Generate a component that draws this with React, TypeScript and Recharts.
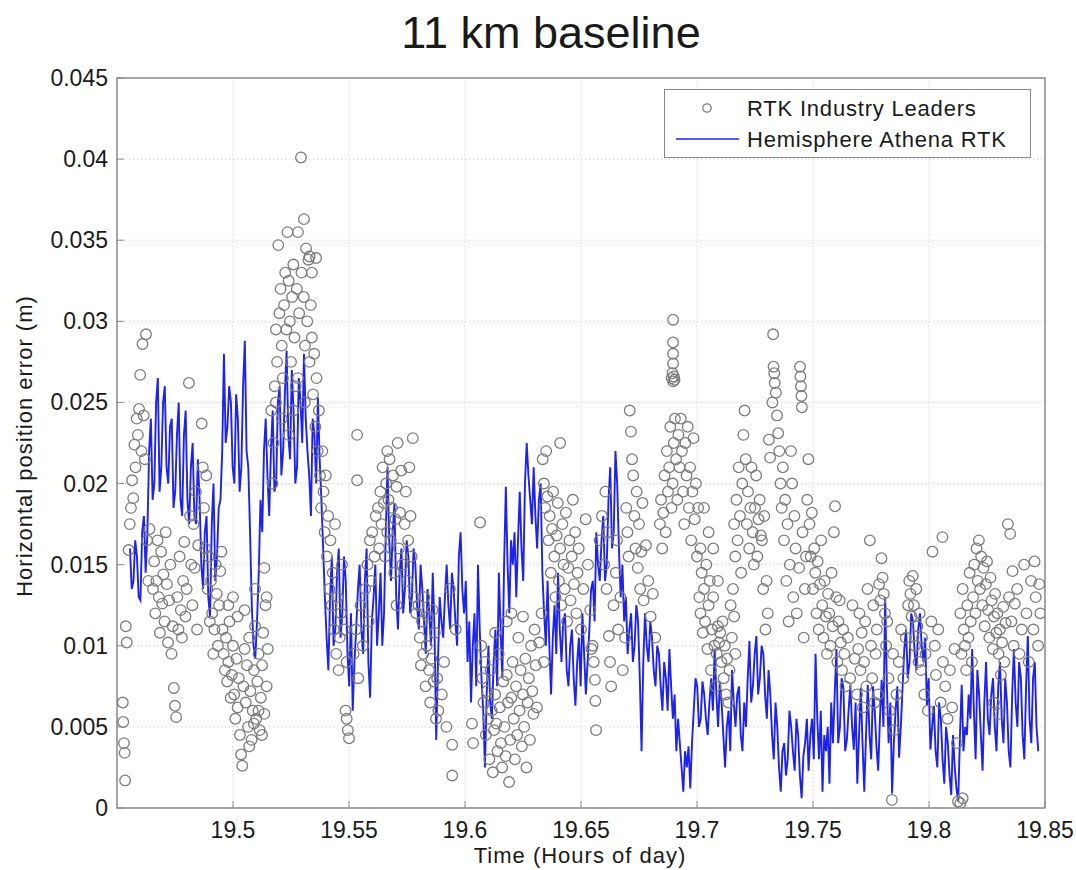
import React from "react";
import {
  ComposedChart,
  Scatter,
  Line,
  XAxis,
  YAxis,
  CartesianGrid,
  ReferenceArea,
} from "recharts";

// asse x: ore del giorno, asse y: errore orizzontale in metri
const xTicks = [19.5, 19.55, 19.6, 19.65, 19.7, 19.75, 19.8, 19.85];
const yTicks = [0, 0.005, 0.01, 0.015, 0.02, 0.025, 0.03, 0.035, 0.04, 0.045];

const title = "11 km baseline";
const xLabel = "Time (Hours of day)";
const yLabel = "Horizontal position error (m)";
const leadersName = "RTK Industry Leaders";
const athenaName = "Hemisphere Athena RTK";

// Hemisphere Athena RTK, campionamento regolare, valori in mm
const athenaStart = 19.4556;
const athenaStep = 0.0015;
const athenaMm = [
  16, 14, 15.5, 12.8, 18, 17, 24, 20, 26.5, 21,
  26, 20, 24, 19.5, 25, 18, 24.5, 17.5, 22.5, 17.5,
  19, 13.5, 18, 11.8, 20, 15.5, 19, 28, 23.5, 25,
  20, 24, 21, 28.8, 21, 12.5, 9.2, 14.5, 17, 24,
  18, 24.5, 20, 26, 22, 28.2, 21.5, 24.5, 21, 25,
  28, 22, 18, 23, 25.3, 19, 13, 8.5, 15.5, 11,
  16, 12, 14, 7.5, 6, 11, 15, 9.5, 16, 6.8,
  13, 10, 14.5, 12, 21, 14, 18.8, 11, 16, 13.5,
  15.5, 13, 15, 11, 13.5, 9.5, 12, 14.5, 4.2, 13,
  10.5, 15, 11, 13.5, 10, 17, 12, 9, 6.5, 12,
  15, 8, 2.5, 10, 5.5, 11, 14.5, 8, 19.8, 12,
  15, 13, 19.5, 14, 22.5, 19, 21, 16, 20, 12,
  14, 7, 12.5, 14.5, 9, 12, 7.5, 11, 6.3, 10.5,
  12, 7, 11, 14, 17, 14, 18, 15, 21, 17,
  20, 13, 11.5, 9.5, 12, 10, 11.5, 3.5, 12, 9,
  10.5, 7.5, 9.5, 6, 8, 9.8, 5.5, 3.5, 4, 1,
  2.5, 1.2, 6, 7.5, 5.5, 7, 4.5, 8, 9.8, 5,
  6.5, 2.5, 6, 8.5, 5, 7.5, 3.5, 5, 10.3, 7.5,
  10.6, 8, 9.5, 5.5, 7, 3, 5, 1, 4, 3,
  5, 2.3, 4.5, 0.6, 4, 2.3, 5.5, 9.5, 3, 1,
  3.5, 1.5, 4, 9.8, 5, 7.4, 4.2, 7.6, 3.6, 1.5,
  7.4, 1, 7.6, 3, 6, 2.3, 7.9, 13, 4, 0.9,
  6, 3.1, 7.4, 11, 9, 11.5, 8.5, 12, 9, 6.3,
  3.6, 6.3, 2.5, 5.5, 1.5, 4, 0.8, 2.5, 0.4, 7.6,
  5, 7, 9.8, 3, 7, 2.3, 9, 4.5, 8, 3.5,
  9, 4, 6.5, 2.5, 9.8, 5, 8, 3, 10.6, 4, 9, 3.5,
];
// campioni a metà passo (stessa serie, letti tra un campione e l'altro)
const athenaMidMm = [
  13.5, 16.5, 13, 17, 14.5, 22, 19, 25, 19.5, 25,
  21, 23.5, 18.5, 23, 19, 23, 19, 21, 18, 21.5,
  15, 17, 13, 17.5, 14, 18.5, 22, 22.5, 26, 21,
  25.5, 19.5, 26, 22, 17, 10, 11.5, 19, 22, 20.5,
  22, 19.5, 25, 20.5, 25.5, 23, 27, 20, 26.5, 22.5,
  24, 20.5, 24, 20, 21.5, 16, 10.5, 13, 10, 14.5,
  10.5, 15.5, 9.5, 12, 9, 13.5, 11, 14, 9, 11.5,
  15, 12, 10, 17, 16.5, 17, 13, 14.5, 12, 16.5,
  12, 16, 12.5, 15, 11.5, 13.5, 10, 11, 9, 11.5,
  13, 12.5, 14.5, 11.5, 15.5, 13.5, 14, 11.5, 10, 7.5,
  11, 6, 7, 6.5, 9, 7.5, 11, 15, 15, 16.5,
  17, 16.5, 16, 20, 20.5, 17.5, 18, 19, 14.5, 10,
  10, 10.5, 9.5, 11, 11.5, 8.5, 10, 8, 9, 7.5,
  9.5, 9, 13.5, 11.5, 15, 16.5, 14, 19, 16, 22,
  16, 15, 13, 11, 9, 12.5, 8, 9, 10, 11.5,
  8.5, 10, 7.5, 9, 6, 7.5, 7, 5.5, 2.5, 3.5,
  3.8, 4, 8, 5, 7.8, 5.5, 6.5, 6, 7, 7.8,
  4.5, 5, 3.5, 6.5, 7, 4.5, 6.5, 8, 6.5, 9.5,
  7, 10, 7, 8.5, 4.5, 6.5, 2.5, 3.5, 2, 6,
  3.5, 5.5, 2, 3.2, 5.5, 4.5, 3, 5.5, 6, 4.5,
  5, 6.5, 7, 4, 8, 3.5, 6, 5, 6.5, 4.5,
  4, 4.5, 4.5, 7.5, 3.8, 5.5, 5, 7.5, 6.5, 4,
  7.5, 5, 9.8, 8, 12, 9.5, 11, 10, 10.5, 8,
  5, 3.5, 6.5, 3, 5, 2, 4.5, 1.2, 4.5, 3.5,
  4.5, 5.5, 6, 8.5, 4.5, 6.5, 5.5, 7, 5, 7.5,
  5.5, 8, 3.5, 7, 6.5, 9, 4.5, 7.5, 5.5, 8, 5,
];

// RTK Industry Leaders: [ora, mm]
const leadersPts: [number, number][] = [
  [19.4525, 6.5], [19.4527, 5.3], [19.453, 4.0], [19.4533, 3.4], [19.4535, 1.7], [19.4538, 11.2], [19.4542, 10.2], [19.455, 15.9], [19.4555, 17.5],
  [19.456, 18.5], [19.4565, 20.2], [19.457, 19.1], [19.4575, 22.4], [19.458, 21.0], [19.4585, 24.0], [19.459, 23.0], [19.4595, 24.6], [19.46, 26.7], [19.4605, 22.0], [19.461, 28.6], [19.4615, 24.2], [19.462, 21.5], [19.4625, 29.2], [19.463, 16.5], [19.4635, 14.0], [19.464, 17.2],
  [19.4655, 13.5], [19.466, 15.2], [19.4665, 12.0], [19.467, 14.0], [19.4675, 16.5], [19.468, 13.0], [19.4685, 10.8], [19.469, 15.8], [19.4695, 12.6], [19.47, 14.4], [19.4705, 11.5], [19.471, 17.0], [19.4715, 13.8], [19.472, 10.2], [19.4725, 12.8], [19.473, 15.0], [19.4735, 9.5], [19.474, 11.2], [19.4745, 7.4], [19.475, 6.3], [19.4755, 5.6], [19.476, 13.0], [19.4765, 11.0], [19.477, 15.5], [19.4775, 12.2], [19.478, 10.5], [19.4785, 14.0], [19.479, 16.4], [19.4795, 11.8], [19.48, 13.5], [19.481, 26.2], [19.4815, 18.0], [19.482, 15.0], [19.4825, 12.5], [19.483, 17.5], [19.4835, 14.8], [19.484, 19.5], [19.4845, 11.0], [19.485, 16.2],
  [19.4865, 23.7], [19.487, 21.0], [19.4875, 18.5], [19.488, 16.0], [19.4885, 20.5], [19.489, 13.5], [19.4895, 15.5], [19.49, 11.5], [19.4905, 14.0], [19.491, 12.0], [19.4915, 9.5], [19.492, 11.0], [19.4925, 15.0], [19.493, 13.2], [19.4935, 10.0], [19.494, 12.5], [19.4945, 14.6], [19.495, 15.8],
  [19.4955, 11.0], [19.496, 9.5], [19.4965, 8.5], [19.497, 10.5], [19.4975, 7.8], [19.498, 9.0], [19.4985, 11.5], [19.499, 6.8], [19.4995, 8.2], [19.5, 10.0], [19.5005, 7.0], [19.501, 5.5], [19.5015, 9.2], [19.502, 6.2], [19.5025, 8.0], [19.503, 4.5], [19.5035, 3.3], [19.504, 2.6], [19.5045, 7.5], [19.505, 9.8], [19.5055, 6.5], [19.506, 8.8], [19.5065, 5.0], [19.507, 10.5], [19.5075, 7.2], [19.508, 4.2], [19.5085, 6.0], [19.509, 8.5], [19.5095, 11.2], [19.51, 5.5], [19.5105, 7.8], [19.511, 9.5], [19.5115, 4.8], [19.512, 6.8], [19.5125, 8.8], [19.513, 10.8], [19.5135, 5.8], [19.514, 12.5], [19.5145, 7.5], [19.515, 9.8], [19.498, 12.5], [19.5, 13.0], [19.502, 11.8], [19.505, 12.2], [19.507, 3.8], [19.509, 5.2], [19.511, 6.0], [19.5125, 4.5], [19.5095, 13.5], [19.5135, 14.8], [19.5145, 13.0],
  [19.5165, 24.5], [19.517, 20.0], [19.5175, 22.5], [19.518, 26.0], [19.5185, 29.5], [19.519, 27.5], [19.5195, 34.7], [19.52, 30.5], [19.5205, 32.0], [19.521, 28.5], [19.5215, 26.5], [19.522, 31.0], [19.5225, 33.0], [19.523, 29.5], [19.5235, 35.5], [19.524, 32.5], [19.5245, 30.0], [19.525, 27.5], [19.5255, 31.5], [19.526, 33.5], [19.5265, 29.0], [19.527, 26.0], [19.5275, 32.0], [19.528, 35.5], [19.5285, 30.5], [19.5293, 40.1], [19.5295, 33.0], [19.5306, 36.3], [19.5305, 31.5], [19.531, 28.5], [19.5315, 34.5], [19.532, 30.0], [19.5325, 33.8], [19.533, 27.5], [19.5335, 31.0], [19.534, 29.0], [19.5345, 25.5], [19.535, 28.0], [19.5355, 23.5], [19.5358, 33.9], [19.536, 26.5], [19.5365, 22.0], [19.537, 24.5], [19.5375, 20.5], [19.538, 18.5], [19.5185, 25.0], [19.521, 24.0], [19.524, 23.0], [19.526, 24.5], [19.528, 26.5], [19.531, 25.0], [19.533, 34.0], [19.534, 33.0],
  [19.5385, 22.0], [19.539, 19.5], [19.5395, 17.0], [19.54, 20.5], [19.5405, 15.5], [19.541, 18.0], [19.5415, 13.5], [19.542, 16.5], [19.5425, 12.5], [19.543, 14.5], [19.5435, 11.0], [19.544, 17.5], [19.5445, 9.5], [19.545, 13.0], [19.5455, 8.5], [19.546, 10.5], [19.5465, 12.0], [19.547, 15.0], [19.548, 11.0], [19.549, 9.0], [19.549, 5.5], [19.5495, 4.8], [19.55, 4.3], [19.5485, 6.0],
  [19.5535, 23.0], [19.5535, 20.2], [19.552, 9.5], [19.553, 11.0], [19.554, 8.0], [19.555, 12.5], [19.556, 10.0], [19.557, 13.5], [19.558, 15.0], [19.5585, 11.5], [19.559, 16.5], [19.5595, 14.0], [19.56, 17.0], [19.561, 15.5], [19.5615, 18.0],
  [19.5625, 18.5], [19.563, 16.0], [19.5635, 19.5], [19.564, 17.5], [19.5645, 21.0], [19.565, 18.8], [19.5655, 15.5], [19.566, 20.0], [19.5665, 17.0], [19.567, 19.0], [19.5675, 21.5], [19.568, 16.5], [19.5685, 18.5], [19.569, 20.5], [19.5695, 14.5], [19.57, 17.8], [19.5705, 19.8], [19.571, 22.5], [19.5715, 16.0], [19.572, 18.2], [19.5725, 20.8], [19.573, 15.0], [19.5775, 22.8], [19.574, 17.5], [19.5745, 19.5], [19.575, 14.0], [19.5755, 16.5], [19.576, 21.0], [19.5765, 18.0], [19.577, 15.5], [19.578, 13.0], [19.579, 12.0], [19.5665, 22.0], [19.5705, 12.5],
  [19.58, 12.5], [19.5805, 10.5], [19.581, 8.8], [19.5815, 11.5], [19.582, 9.5], [19.5825, 13.0], [19.583, 7.5], [19.5835, 10.0], [19.584, 11.8], [19.5845, 8.5], [19.585, 6.5], [19.5855, 9.2], [19.586, 12.2], [19.5865, 7.8], [19.587, 10.8], [19.5875, 5.5], [19.588, 8.0], [19.5885, 6.0], [19.59, 7.0], [19.591, 9.0], [19.592, 5.0], [19.5935, 13.5], [19.5945, 3.9], [19.5945, 2.0], [19.596, 11.0], [19.603, 5.2], [19.6035, 4.0], [19.6065, 17.6],
  [19.607, 10.0], [19.6075, 8.0], [19.608, 6.5], [19.6085, 9.0], [19.609, 4.5], [19.6095, 7.2], [19.61, 5.5], [19.6105, 3.0], [19.611, 8.5], [19.6115, 6.0], [19.612, 2.2], [19.6125, 4.8], [19.613, 7.0], [19.6135, 5.2], [19.614, 3.5], [19.6145, 9.5], [19.615, 6.2], [19.6155, 4.0], [19.616, 2.5], [19.6165, 7.8], [19.617, 5.0], [19.6175, 3.2], [19.618, 8.2], [19.6185, 6.5], [19.619, 1.6], [19.6195, 4.2], [19.62, 6.8], [19.6205, 9.0], [19.621, 5.5], [19.6215, 3.0], [19.622, 7.5], [19.6225, 4.5], [19.623, 10.5], [19.6235, 6.0], [19.624, 8.5], [19.6245, 3.8], [19.625, 7.0], [19.6255, 5.0], [19.626, 9.2], [19.6265, 2.5], [19.627, 6.5], [19.6275, 8.0], [19.628, 4.2], [19.6285, 10.0], [19.629, 7.2], [19.6295, 5.8], [19.63, 11.0], [19.6305, 8.8], [19.631, 6.2], [19.632, 10.2], [19.633, 12.0], [19.634, 9.0], [19.613, 10.8], [19.618, 11.5], [19.62, 12.0], [19.625, 11.8],
  [19.6335, 21.5], [19.634, 20.0], [19.6345, 18.5], [19.635, 22.0], [19.6355, 19.2], [19.636, 16.5], [19.6365, 18.0], [19.637, 14.5], [19.6375, 17.2], [19.638, 19.5], [19.6385, 15.5], [19.639, 13.0], [19.6395, 16.8], [19.64, 18.8], [19.6405, 14.0], [19.641, 16.0], [19.6415, 12.5], [19.642, 17.5], [19.6425, 15.0], [19.643, 13.5], [19.6435, 18.2], [19.644, 11.5], [19.6445, 14.8], [19.645, 16.5], [19.6455, 12.8], [19.646, 15.5], [19.6465, 19.0], [19.647, 13.8], [19.6475, 17.0], [19.648, 12.0], [19.6485, 14.5], [19.649, 16.0], [19.65, 11.0], [19.651, 13.5], [19.652, 17.8], [19.653, 15.0], [19.654, 12.2], [19.655, 10.0], [19.6555, 9.0], [19.656, 7.9], [19.6562, 6.6], [19.6565, 4.8], [19.6545, 9.8], [19.641, 22.5],
  [19.658, 16.5], [19.659, 18.0], [19.66, 15.0], [19.6605, 19.5], [19.661, 13.5], [19.6615, 17.0], [19.662, 10.6], [19.6625, 9.0], [19.663, 7.5], [19.664, 12.5], [19.665, 14.5], [19.6655, 16.5], [19.666, 11.0], [19.667, 13.0], [19.668, 8.5], [19.669, 10.5], [19.6695, 18.5], [19.67, 17.0], [19.6705, 15.5], [19.671, 24.5], [19.6715, 23.2], [19.672, 21.5], [19.6725, 20.5], [19.673, 18.0], [19.6735, 16.0], [19.674, 19.5], [19.6745, 14.8], [19.675, 17.5], [19.6755, 13.5], [19.676, 15.8], [19.6765, 18.8], [19.677, 12.8], [19.678, 16.2], [19.679, 14.0], [19.68, 11.8], [19.681, 13.2], [19.682, 10.5],
  [19.6897, 30.1], [19.6897, 28.7], [19.6897, 28.0], [19.6897, 27.4], [19.6894, 26.8], [19.69, 26.6], [19.6897, 26.3], [19.6903, 26.4], [19.6891, 26.5],
  [19.684, 17.5], [19.6845, 19.0], [19.685, 16.0], [19.6855, 18.2], [19.686, 20.5], [19.6865, 17.0], [19.687, 22.0], [19.6875, 19.5], [19.688, 21.0], [19.6885, 23.5], [19.689, 18.5], [19.6895, 20.0], [19.69, 22.5], [19.6905, 24.0], [19.691, 21.5], [19.6915, 19.0], [19.692, 23.0], [19.6925, 21.0], [19.693, 24.0], [19.6935, 22.0], [19.694, 19.5], [19.6945, 17.5], [19.695, 22.5], [19.6955, 20.5], [19.696, 23.5], [19.6965, 18.5], [19.697, 21.0], [19.6975, 16.5], [19.698, 19.5], [19.6985, 22.8], [19.699, 17.8], [19.6995, 20.0], [19.7, 15.5], [19.7005, 18.5], [19.701, 13.0], [19.7015, 16.0],
  [19.7015, 12.0], [19.702, 14.5], [19.7025, 10.8], [19.703, 13.5], [19.7035, 11.5], [19.704, 15.0], [19.7045, 9.8], [19.705, 12.5], [19.7055, 14.0], [19.706, 8.5], [19.7065, 11.0], [19.707, 13.0], [19.7075, 10.0], [19.708, 7.5], [19.7085, 9.5], [19.709, 11.2], [19.7095, 10.2], [19.71, 10.8], [19.7105, 9.0], [19.711, 11.5], [19.7115, 8.0], [19.712, 10.0], [19.7125, 7.0], [19.713, 9.2], [19.7135, 6.5], [19.714, 8.5], [19.7145, 12.5], [19.715, 10.5], [19.7155, 13.5], [19.716, 11.8], [19.7165, 9.5], [19.703, 18.5], [19.705, 17.0], [19.707, 16.0], [19.709, 14.0],
  [19.716, 17.5], [19.7165, 15.5], [19.717, 19.0], [19.7175, 16.5], [19.718, 21.0], [19.7185, 18.0], [19.719, 14.5], [19.7195, 20.0], [19.72, 23.0], [19.7205, 24.5], [19.721, 21.5], [19.7215, 17.5], [19.722, 19.5], [19.7225, 16.0], [19.723, 18.5], [19.7235, 21.0], [19.724, 17.0], [19.7245, 15.0], [19.725, 18.5], [19.7255, 20.5], [19.726, 15.5], [19.7265, 17.8], [19.727, 19.0], [19.7275, 16.8], [19.728, 16.5], [19.7285, 13.5], [19.729, 18.0], [19.7295, 11.0], [19.73, 14.0], [19.7305, 12.0], [19.731, 22.7], [19.7315, 21.6], [19.7328, 29.2], [19.733, 27.2], [19.7333, 26.8], [19.7335, 26.2], [19.734, 25.6], [19.7325, 25.0], [19.7345, 24.2], [19.735, 23.1], [19.7355, 22.0], [19.736, 20.0], [19.7365, 18.5], [19.737, 21.0], [19.7375, 16.5], [19.738, 19.0], [19.7385, 14.0], [19.739, 17.5], [19.7395, 11.5], [19.74, 15.0], [19.7405, 22.0], [19.741, 20.0], [19.7415, 13.0], [19.742, 18.0], [19.7425, 16.0], [19.743, 12.0], [19.7444, 27.2], [19.7446, 26.6], [19.7448, 26.0], [19.745, 25.4], [19.7452, 24.7], [19.744, 14.8], [19.7455, 17.0], [19.746, 10.5], [19.7465, 13.5], [19.747, 15.5],
  [19.7475, 19.0], [19.748, 21.5], [19.7485, 17.5], [19.749, 15.5], [19.7495, 18.2], [19.75, 13.5], [19.7505, 16.0], [19.751, 14.5], [19.7515, 12.0], [19.752, 15.2], [19.7525, 11.0], [19.753, 13.8], [19.7535, 16.5], [19.754, 12.5], [19.7545, 10.5], [19.755, 14.0], [19.7555, 11.8], [19.756, 9.5], [19.7565, 13.2], [19.757, 12.0], [19.7575, 10.0], [19.758, 14.5], [19.7585, 11.2], [19.759, 17.0], [19.7595, 18.6], [19.76, 13.0], [19.7605, 9.0], [19.761, 11.5], [19.7615, 12.8], [19.762, 10.2], [19.7625, 8.5], [19.763, 11.0], [19.7635, 9.5], [19.764, 7.5], [19.765, 10.5], [19.766, 8.0], [19.767, 12.5], [19.768, 9.2],
  [19.769, 7.0], [19.7695, 9.8], [19.77, 12.0], [19.7705, 8.5], [19.771, 10.8], [19.7715, 6.2], [19.772, 9.0], [19.7725, 11.5], [19.773, 7.5], [19.7735, 13.5], [19.7745, 16.5], [19.775, 10.0], [19.7755, 8.0], [19.776, 12.5], [19.7765, 6.5], [19.777, 9.5], [19.7775, 11.0], [19.778, 7.0], [19.7785, 13.8], [19.779, 12.8], [19.7795, 15.4], [19.78, 14.2], [19.7805, 13.2], [19.781, 12.0], [19.7815, 10.0], [19.782, 11.5], [19.7825, 8.0], [19.783, 6.0], [19.784, 0.5], [19.7845, 9.5], [19.785, 4.8],
  [19.786, 7.0], [19.787, 9.0], [19.788, 11.0], [19.789, 8.0], [19.79, 10.5], [19.791, 12.5], [19.7915, 14.0], [19.792, 13.2], [19.7925, 11.8], [19.793, 14.3], [19.7935, 12.5], [19.794, 10.0], [19.7945, 13.5], [19.795, 11.2], [19.7955, 9.0], [19.796, 12.0], [19.7965, 8.5], [19.797, 10.5], [19.798, 7.0], [19.7985, 9.5], [19.7995, 6.0], [19.8015, 15.8], [19.8058, 16.7], [19.801, 11.5], [19.8025, 10.0], [19.803, 8.2], [19.804, 11.0], [19.805, 6.5], [19.806, 9.0], [19.807, 7.5], [19.808, 5.5], [19.809, 8.5], [19.81, 6.2], [19.811, 9.8], [19.812, 4.0], [19.8125, 0.4], [19.8135, 0.3], [19.8145, 0.6],
  [19.8135, 12.0], [19.814, 9.5], [19.8145, 13.5], [19.815, 11.0], [19.8155, 10.0], [19.816, 8.5], [19.8165, 12.5], [19.817, 10.5], [19.8175, 14.5], [19.818, 11.5], [19.8185, 9.0], [19.819, 13.0], [19.8195, 15.0], [19.82, 12.0], [19.8205, 16.0], [19.821, 14.0], [19.8215, 16.5], [19.822, 13.5], [19.8225, 15.5], [19.823, 12.5], [19.8235, 14.8], [19.824, 11.2], [19.8245, 13.8], [19.825, 15.2], [19.8255, 12.2], [19.826, 10.5], [19.8265, 14.2], [19.827, 12.8], [19.8275, 9.8], [19.828, 11.8], [19.8285, 13.2], [19.829, 10.8], [19.8295, 12.0], [19.83, 9.5], [19.8305, 11.0], [19.831, 8.2], [19.8315, 10.2], [19.832, 12.4], [19.8325, 9.0], [19.833, 11.4], [19.834, 17.5], [19.8345, 13.0], [19.835, 16.9], [19.8355, 11.5], [19.836, 14.6], [19.8365, 10.0], [19.837, 12.6], [19.838, 13.5], [19.839, 9.5], [19.84, 11.0], [19.841, 15.0], [19.842, 12.0], [19.843, 9.0], [19.844, 14.0], [19.845, 11.0], [19.8455, 15.2], [19.846, 13.0], [19.847, 10.0], [19.8475, 13.8], [19.848, 12.0], [19.828, 6.5], [19.83, 5.8],
];

const athenaData: { t: number; v: number }[] = [];
athenaMm.forEach((mm, i) => {
  const t = athenaStart + i * athenaStep;
  athenaData.push({ t, v: mm / 1000 });
  if (i < athenaMidMm.length) athenaData.push({ t: t + athenaStep / 2, v: athenaMidMm[i] / 1000 });
});
const leadersData = leadersPts.map(([t, mm]) => ({ t, v: mm / 1000 }));

const FONT = "Arial, 'Liberation Sans', Helvetica, sans-serif";
const TEXT = "#1a1a1a";
const BLUE = "#1d22ee";
const GREY = "#7c7c7c";
const BOX = "#8a8a8a";

function XTick({ x, y, payload }: any) {
  return (
    <g>
      <line x1={x} x2={x} y1={y} y2={y - 7} stroke={BOX} />
      <text x={x} y={y + 30} textAnchor="middle" fontSize={23} fontFamily={FONT} fill={TEXT}>
        {String(payload.value)}
      </text>
    </g>
  );
}

function YTick({ x, y, payload }: any) {
  return (
    <g>
      <line x1={x} x2={x + 7} y1={y} y2={y} stroke={BOX} />
      <text x={x - 9} y={y + 8} textAnchor="end" fontSize={23} fontFamily={FONT} fill={TEXT}>
        {String(payload.value)}
      </text>
    </g>
  );
}

function Ring(props: any) {
  const { cx, cy } = props;
  if (cx == null || cy == null) return null;
  return <circle cx={cx} cy={cy} r={5.3} fill="none" stroke={GREY} strokeWidth={1.3} />;
}

function LegendBox() {
  return (
    <svg width={367} height={69} style={{ position: "absolute", left: 664, top: 89 }}>
      <rect x={0.5} y={0.5} width={366} height={68} fill="#fff" stroke={BOX} />
      <circle cx={43} cy={19} r={4.2} fill="none" stroke={GREY} strokeWidth={1.3} />
      <line x1={12} x2={75} y1={50} y2={50} stroke={BLUE} strokeWidth={1.6} />
      <g fontFamily={FONT} fontSize={22} fill={TEXT} letterSpacing={0.8}>
        <text x={83} y={27}>{leadersName}</text>
        <text x={83} y={58}>{athenaName}</text>
      </g>
    </svg>
  );
}

export default function App() {
  return (
    <div style={{ position: "absolute", left: 0, top: 0, width: 1076, height: 870, background: "#fff" }}>
      <ComposedChart width={1076} height={870} margin={{ top: 78, right: 31, bottom: 0, left: 0 }}>
        <CartesianGrid stroke="#c8c8c8" strokeDasharray="1 3" />
        <XAxis
          type="number"
          dataKey="t"
          domain={[19.45, 19.85]}
          ticks={xTicks}
          allowDataOverflow
          height={62}
          axisLine={false}
          tickLine={false}
          tickSize={0}
          tickMargin={0}
          tick={<XTick />}
          interval={0}
        />
        <YAxis
          type="number"
          dataKey="v"
          domain={[0, 0.045]}
          ticks={yTicks}
          allowDataOverflow
          width={117}
          axisLine={false}
          tickLine={false}
          tickSize={0}
          tickMargin={0}
          tick={<YTick />}
          interval={0}
        />
        <ReferenceArea
          x1={19.45}
          x2={19.85}
          y1={0}
          y2={0.045}
          fill="none"
          fillOpacity={0}
          stroke={BOX}
          strokeWidth={1.5}
          ifOverflow="visible"
        />
        <Scatter
          name={leadersName}
          data={leadersData}
          dataKey="v"
          shape={<Ring />}
          isAnimationActive={false}
        />
        <Line
          name={athenaName}
          data={athenaData}
          dataKey="v"
          type="linear"
          stroke={BLUE}
          strokeWidth={1.9}
          dot={false}
          activeDot={false}
          isAnimationActive={false}
        />
      </ComposedChart>
      <LegendBox />
      <svg
        width={1076}
        height={870}
        style={{ position: "absolute", left: 0, top: 0, pointerEvents: "none" }}
      >
        <text x={551} y={48} textAnchor="middle" fontSize={45} fontFamily={FONT} fill={TEXT}>
          {title}
        </text>
        <text x={580} y={863} textAnchor="middle" fontSize={22} fontFamily={FONT} fill={TEXT} letterSpacing={1}>
          {xLabel}
        </text>
        <text
          x={32}
          y={446}
          textAnchor="middle"
          fontSize={22}
          fontFamily={FONT}
          fill={TEXT}
          letterSpacing={1}
          transform="rotate(-90 32 446)"
        >
          {yLabel}
        </text>
      </svg>
    </div>
  );
}
